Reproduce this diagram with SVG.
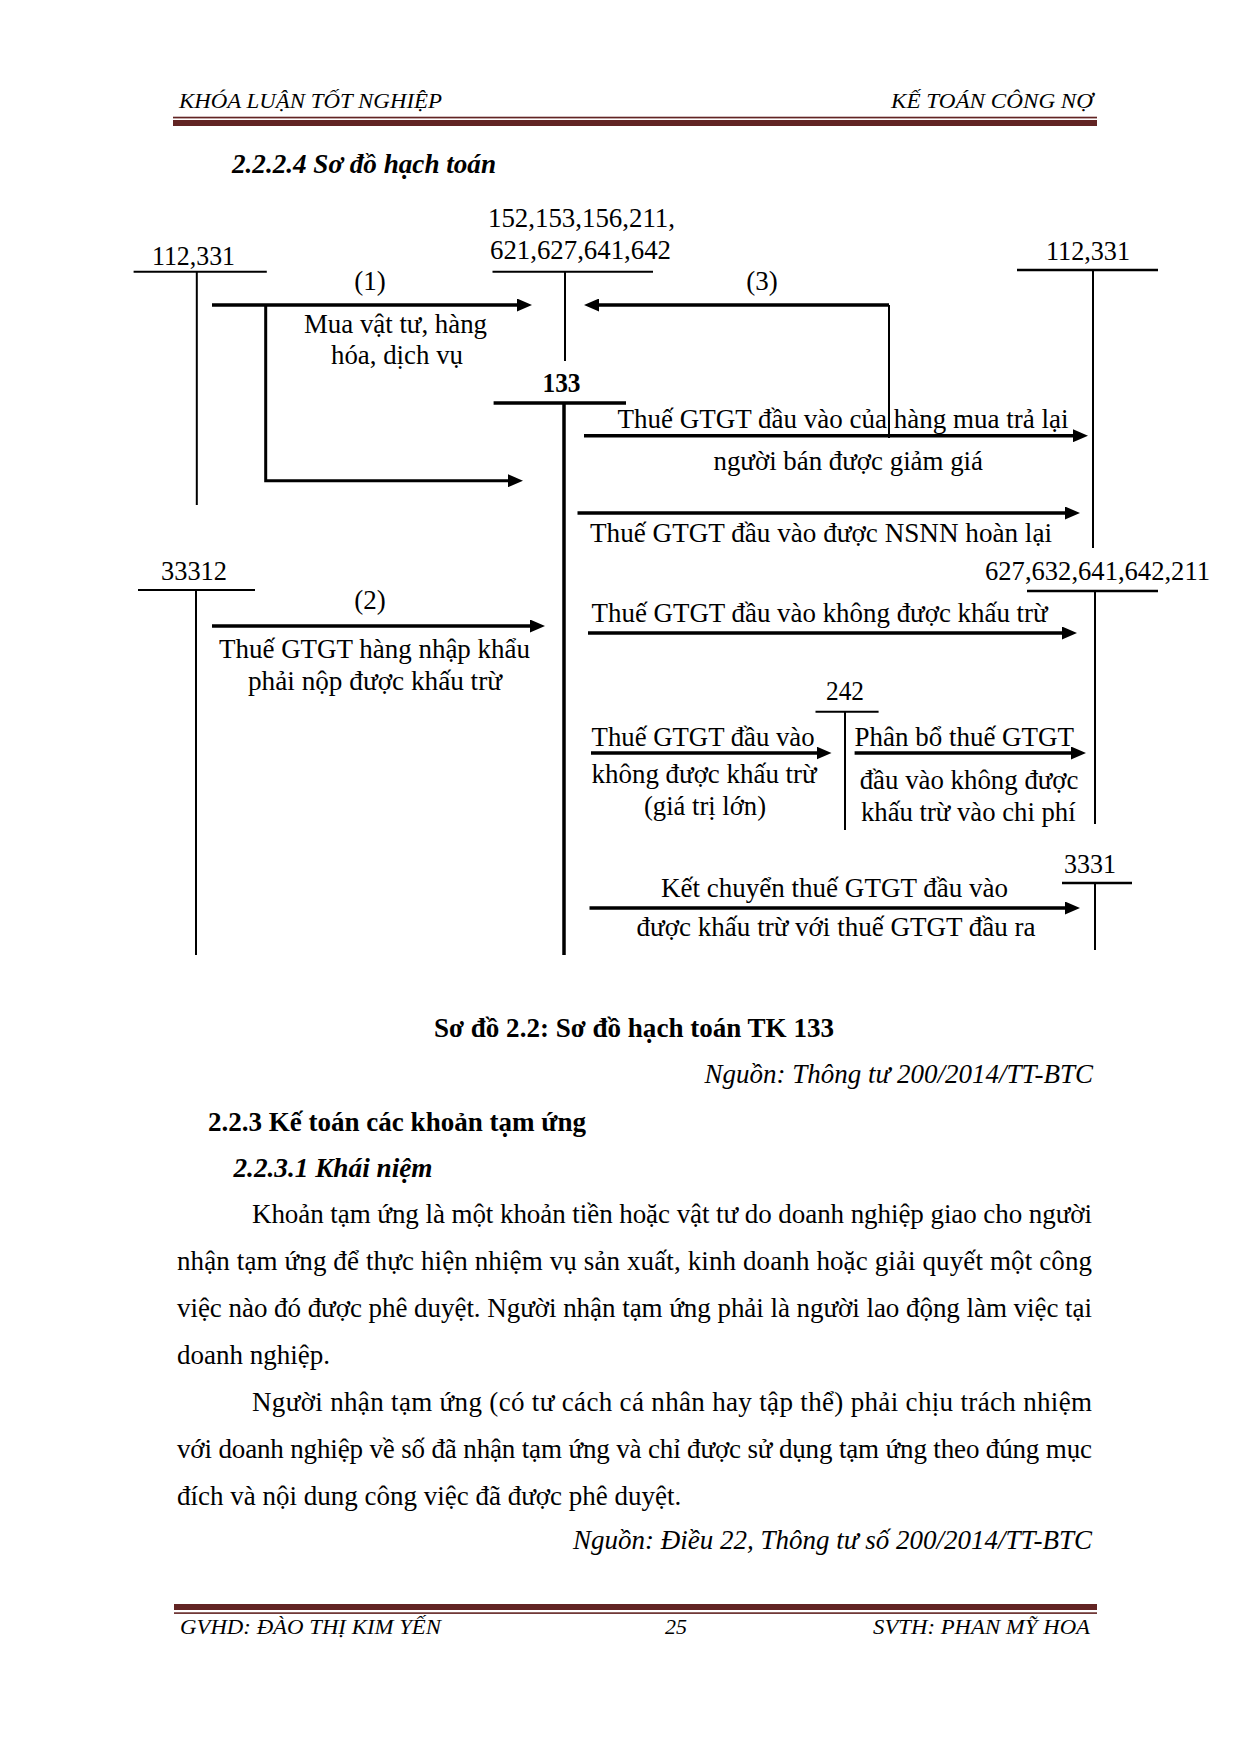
<svg xmlns="http://www.w3.org/2000/svg" width="1240" height="1754" viewBox="0 0 1240 1754">
<style>
.t{font-family:"Liberation Serif","Times New Roman",serif;font-size:27px;fill:#000}
.b{font-weight:bold}
.i{font-style:italic}
.hf{font-family:"Liberation Serif","Times New Roman",serif;font-size:22px;font-style:italic;fill:#000}
.thin{stroke:#000;stroke-width:2;fill:none}
.mid{stroke:#000;stroke-width:2.6;fill:none}
.thick{stroke:#000;stroke-width:3.5;fill:none}
.arr{stroke:#000;stroke-width:3.5;fill:none;marker-end:url(#ah)}
.rule{fill:#622423}
</style>
<defs>
<marker id="ah" markerUnits="userSpaceOnUse" markerWidth="15" markerHeight="13" refX="6" refY="6.5" orient="auto">
<path d="M0,0 L15,6.5 L0,13 z" fill="#000"/>
</marker>
</defs>
<rect width="1240" height="1754" fill="#fff"/>

<g id="header">
<text class="hf" x="179" y="108" textLength="263" lengthAdjust="spacingAndGlyphs">KHÓA LUẬN TỐT NGHIỆP</text>
<text class="hf" x="891" y="108" textLength="202" lengthAdjust="spacingAndGlyphs">KẾ TOÁN CÔNG NỢ</text>
<rect class="rule" x="173" y="116.7" width="924" height="1.7"/>
<rect class="rule" x="173" y="120" width="924" height="6"/>
</g>

<text class="t b i" x="232" y="173" textLength="264" lengthAdjust="spacingAndGlyphs">2.2.2.4 Sơ đồ hạch toán</text>

<g id="acc-112-331-left">
<text class="t" x="152" y="265" textLength="83" lengthAdjust="spacingAndGlyphs">112,331</text>
<line class="thin" x1="133.6" y1="271.7" x2="266.8" y2="271.7"/>
<line class="thin" x1="196.8" y1="271.7" x2="196.8" y2="505"/>
</g>

<g id="acc-152">
<text class="t" x="488" y="227" textLength="187" lengthAdjust="spacingAndGlyphs">152,153,156,211,</text>
<text class="t" x="490" y="259" textLength="181" lengthAdjust="spacingAndGlyphs">621,627,641,642</text>
<line class="thin" x1="492.5" y1="271.7" x2="653" y2="271.7"/>
<line class="thin" x1="565" y1="271.7" x2="565" y2="361"/>
</g>

<g id="acc-133">
<text class="t b" x="542.5" y="392" textLength="38" lengthAdjust="spacingAndGlyphs">133</text>
<line class="thick" x1="493.6" y1="403" x2="626" y2="403"/>
<line class="thick" x1="564" y1="403" x2="564" y2="955"/>
</g>

<g id="acc-112-331-right">
<text class="t" x="1046" y="260" textLength="84" lengthAdjust="spacingAndGlyphs">112,331</text>
<line class="mid" x1="1017" y1="270" x2="1158" y2="270"/>
<line class="thin" x1="1093" y1="270" x2="1093" y2="548"/>
</g>

<g id="acc-33312">
<text class="t" x="161" y="580" textLength="66" lengthAdjust="spacingAndGlyphs">33312</text>
<line class="thin" x1="138" y1="590" x2="255" y2="590"/>
<line class="thin" x1="196" y1="590" x2="196" y2="955"/>
</g>

<g id="acc-627">
<text class="t" x="985" y="580" textLength="225" lengthAdjust="spacingAndGlyphs">627,632,641,642,211</text>
<line class="mid" x1="1027" y1="591" x2="1158" y2="591"/>
<line class="thin" x1="1095" y1="591" x2="1095" y2="824"/>
</g>

<g id="acc-242">
<text class="t" x="826" y="700" textLength="38" lengthAdjust="spacingAndGlyphs">242</text>
<line class="thin" x1="815.5" y1="711.7" x2="878.6" y2="711.7"/>
<line class="thin" x1="845" y1="711.7" x2="845" y2="830"/>
</g>

<g id="acc-3331">
<text class="t" x="1064" y="873" textLength="52" lengthAdjust="spacingAndGlyphs">3331</text>
<line class="mid" x1="1062" y1="883" x2="1132" y2="883"/>
<line class="thin" x1="1095" y1="883" x2="1095" y2="950"/>
</g>

<g id="connectors">
<path class="arr" d="M212,305 H523"/>
<path class="arr" style="stroke-width:3" d="M265.7,305 V480.7 H514"/>
<path class="thin" d="M889,305 V438"/>
<path class="arr" d="M889,305 H593"/>
<path class="arr" d="M584,435.7 H1079"/>
<path class="arr" d="M577.5,513 H1071"/>
<path class="arr" d="M212,626 H536"/>
<path class="arr" d="M588,633 H1068"/>
<path class="arr" d="M591,753 H822.5"/>
<path class="arr" d="M854.6,753 H1077"/>
<path class="arr" d="M589.5,908 H1071"/>
</g>

<g id="connector-labels">
<text class="t" x="370" y="289.5" text-anchor="middle">(1)</text>
<text class="t" x="304" y="333" textLength="183" lengthAdjust="spacingAndGlyphs">Mua vật tư, hàng</text>
<text class="t" x="331" y="364" textLength="132" lengthAdjust="spacingAndGlyphs">hóa, dịch vụ</text>
<text class="t" x="762" y="289.5" text-anchor="middle">(3)</text>
<text class="t" x="617.6" y="428" textLength="451" lengthAdjust="spacingAndGlyphs">Thuế GTGT đầu vào của hàng mua trả lại</text>
<text class="t" x="713.5" y="470" textLength="269.5" lengthAdjust="spacingAndGlyphs">người bán được giảm giá</text>
<text class="t" x="590" y="542" textLength="462" lengthAdjust="spacingAndGlyphs">Thuế GTGT đầu vào được NSNN hoàn lại</text>
<text class="t" x="370" y="609" text-anchor="middle">(2)</text>
<text class="t" x="591.6" y="621.7" textLength="456" lengthAdjust="spacingAndGlyphs">Thuế GTGT đầu vào không được khấu trừ</text>
<text class="t" x="219" y="658" textLength="311" lengthAdjust="spacingAndGlyphs">Thuế GTGT hàng nhập khẩu</text>
<text class="t" x="248" y="690" textLength="254" lengthAdjust="spacingAndGlyphs">phải nộp được khấu trừ</text>
<text class="t" x="591.6" y="746" textLength="223" lengthAdjust="spacingAndGlyphs">Thuế GTGT đầu vào</text>
<text class="t" x="854.6" y="746" textLength="219.4" lengthAdjust="spacingAndGlyphs">Phân bổ thuế GTGT</text>
<text class="t" x="591.6" y="783" textLength="225" lengthAdjust="spacingAndGlyphs">không được khấu trừ</text>
<text class="t" x="644" y="815" textLength="122" lengthAdjust="spacingAndGlyphs">(giá trị lớn)</text>
<text class="t" x="859.7" y="789" textLength="218.8" lengthAdjust="spacingAndGlyphs">đầu vào không được</text>
<text class="t" x="861" y="821" textLength="214.6" lengthAdjust="spacingAndGlyphs">khấu trừ vào chi phí</text>
<text class="t" x="661" y="897" textLength="347" lengthAdjust="spacingAndGlyphs">Kết chuyển thuế GTGT đầu vào</text>
<text class="t" x="636.6" y="936" textLength="399" lengthAdjust="spacingAndGlyphs">được khấu trừ với thuế GTGT đầu ra</text>
</g>

<g id="body">
<text class="t b" x="434" y="1037" textLength="400" lengthAdjust="spacingAndGlyphs">Sơ đồ 2.2: Sơ đồ hạch toán TK 133</text>
<text class="t i" x="1093" y="1083" text-anchor="end">Nguồn: Thông tư 200/2014/TT-BTC</text>
<text class="t b" x="208" y="1131" textLength="378" lengthAdjust="spacingAndGlyphs">2.2.3 Kế toán các khoản tạm ứng</text>
<text class="t b i" x="233.5" y="1177" textLength="199" lengthAdjust="spacingAndGlyphs">2.2.3.1 Khái niệm</text>
<text class="t" x="252" y="1223" textLength="840" lengthAdjust="spacing">Khoản tạm ứng là một khoản tiền hoặc vật tư do doanh nghiệp giao cho người</text>
<text class="t" x="177" y="1270" textLength="915" lengthAdjust="spacing">nhận tạm ứng để thực hiện nhiệm vụ sản xuất, kinh doanh hoặc giải quyết một công</text>
<text class="t" x="177" y="1317" textLength="915" lengthAdjust="spacing">việc nào đó được phê duyệt. Người nhận tạm ứng phải là người lao động làm việc tại</text>
<text class="t" x="177" y="1364">doanh nghiệp.</text>
<text class="t" x="252" y="1411" textLength="840" lengthAdjust="spacing">Người nhận tạm ứng (có tư cách cá nhân hay tập thể) phải chịu trách nhiệm</text>
<text class="t" x="177" y="1458" textLength="915" lengthAdjust="spacing">với doanh nghiệp về số đã nhận tạm ứng và chỉ được sử dụng tạm ứng theo đúng mục</text>
<text class="t" x="177" y="1505">đích và nội dung công việc đã được phê duyệt.</text>
<text class="t i" x="1092" y="1549" text-anchor="end">Nguồn: Điều 22, Thông tư số 200/2014/TT-BTC</text>
</g>

<g id="footer">
<rect class="rule" x="174" y="1604" width="923" height="6"/>
<rect class="rule" x="174" y="1612.3" width="923" height="1.6"/>
<text class="hf" x="180" y="1634" textLength="261" lengthAdjust="spacingAndGlyphs">GVHD: ĐÀO THỊ KIM YẾN</text>
<text class="hf" x="676" y="1634" text-anchor="middle">25</text>
<text class="hf" x="873" y="1634" textLength="217" lengthAdjust="spacingAndGlyphs">SVTH: PHAN MỸ HOA</text>
</g>
</svg>
